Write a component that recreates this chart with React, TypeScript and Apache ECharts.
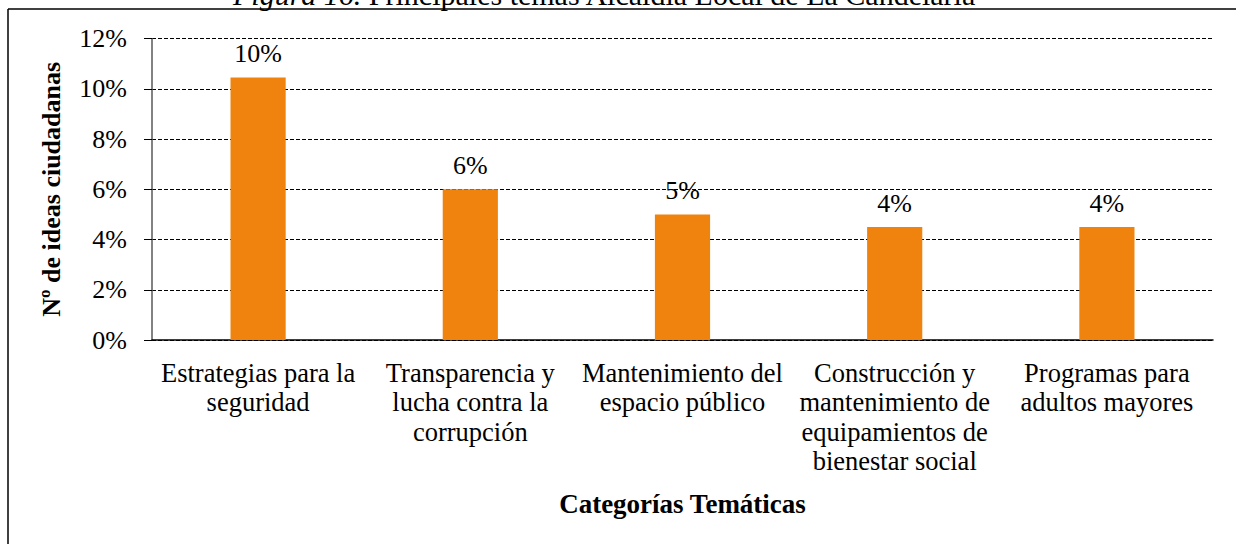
import React, { useEffect, useRef } from "react";
import * as echarts from "echarts";

const categories = [
  "Estrategias para la\nseguridad",
  "Transparencia y\nlucha contra la\ncorrupción",
  "Mantenimiento del\nespacio público",
  "Construcción y\nmantenimiento de\nequipamientos de\nbienestar social",
  "Programas para\nadultos mayores",
];
const values = [10.45, 6.0, 5.0, 4.5, 4.5];
const valueLabels = ["10%", "6%", "5%", "4%", "4%"];
const yTicks = [0, 2, 4, 6, 8, 10, 12];

const FONT = "Liberation Serif";

export default function App() {
  const ref = useRef<HTMLDivElement>(null);
  useEffect(() => {
    if (!ref.current) return;
    const chart = echarts.init(ref.current, null, { renderer: "svg" });
    chart.setOption({
      animation: false,
      backgroundColor: "#ffffff",
      textStyle: { fontFamily: FONT },
      grid: { left: 152, right: 23, top: 38.7, bottom: 204, containLabel: false },
      xAxis: {
        type: "category",
        data: categories,
        axisLine: { show: true, lineStyle: { color: "#000", width: 1.5 } },
        axisTick: { show: false },
        axisLabel: {
          interval: 0,
          color: "#000",
          fontFamily: FONT,
          fontSize: 26.5,
          lineHeight: 29.5,
          margin: 18,
        },
        name: "Categorías Temáticas",
        nameLocation: "middle",
        nameGap: 150,
        nameTextStyle: { color: "#000", fontFamily: FONT, fontSize: 27, fontWeight: "bold" },
      },
      yAxis: {
        type: "value",
        min: yTicks[0],
        max: yTicks[yTicks.length - 1],
        interval: 2,
        axisLine: { show: true, lineStyle: { color: "#595959", width: 1.5 } },
        axisTick: { show: true, length: 8, lineStyle: { color: "#000" } },
        axisLabel: {
          color: "#000",
          fontFamily: FONT,
          fontSize: 26,
          margin: 25,
          formatter: (v: number) => `${v}%`,
        },
        splitLine: { show: true, lineStyle: { color: "#000", type: [4, 2], width: 1 } },
        name: "Nº de ideas ciudadanas",
        nameLocation: "middle",
        nameGap: 88,
        nameRotate: 90,
        nameTextStyle: { color: "#000", fontFamily: FONT, fontSize: 26, fontWeight: "bold" },
      },
      series: [
        {
          type: "bar",
          data: values,
          barWidth: "26%",
          itemStyle: { color: "#F0820E" },
          label: {
            show: true,
            position: "top",
            distance: 11,
            color: "#000",
            fontFamily: FONT,
            fontSize: 26,
            formatter: (p: any) => valueLabels[p.dataIndex],
          },
        },
      ],
      graphic: [
        {
          type: "line",
          shape: { x1: 8, y1: 9, x2: 1236, y2: 9 },
          style: { stroke: "#000", lineWidth: 1.5 },
        },
        {
          type: "line",
          shape: { x1: 8, y1: 9, x2: 8, y2: 544 },
          style: { stroke: "#000", lineWidth: 1.5 },
        },
        {
          type: "text",
          x: 233,
          y: -6,
          style: {
            text: "{i|Figura 16.} Principales temas Alcaldía Local de La Candelaria",
            fontFamily: FONT,
            fontSize: 30,
            fill: "#000",
            verticalAlign: "middle",
            rich: { i: { fontStyle: "italic", fontFamily: FONT, fontSize: 30 } },
          },
        },
      ],
    });
    return () => chart.dispose();
  }, []);
  return (
    <div
      ref={ref}
      style={{ position: "fixed", left: 0, top: 0, width: 1236, height: 544, background: "#fff" }}
    />
  );
}
